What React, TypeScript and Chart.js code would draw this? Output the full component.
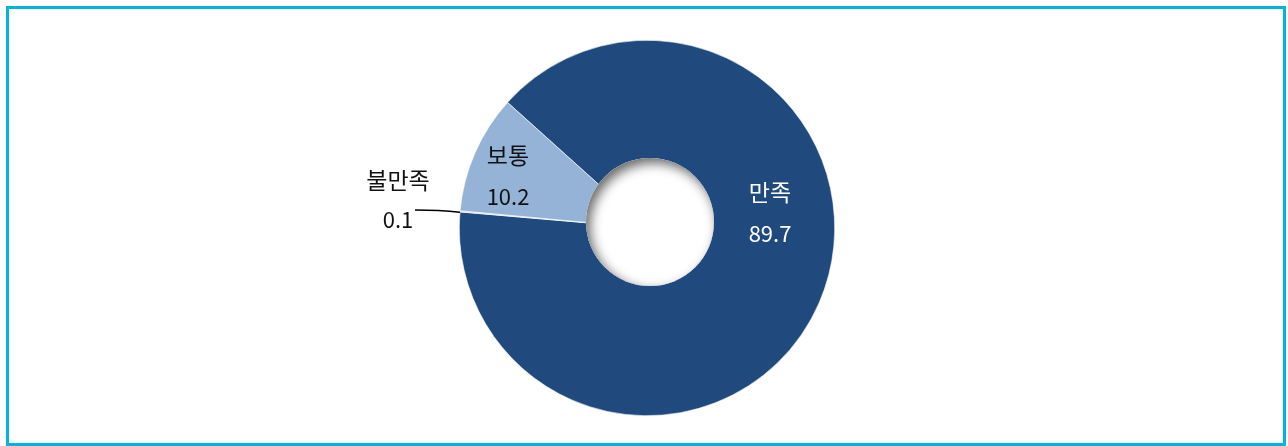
import React, { useEffect, useRef } from "react";
import { Chart, registerables } from "chart.js";

Chart.register(...registerables);

const categories = ["만족", "불만족", "보통"];
const values = [89.7, 0.1, 10.2];
const sliceColors = ["#204A7D", "#D9D9D9", "#95B3D7"];
const valueLabels = ["89.7", "0.1", "10.2"];

const FONT_KO = "23px 'Noto Sans CJK KR', 'Noto Sans', sans-serif";
const FONT_NUM = "22px 'Noto Sans CJK KR', 'Noto Sans', sans-serif";

const labelPlugin = {
  id: "donutLabels",
  afterDraw(chart: any) {
    const ctx = chart.ctx;
    const meta = chart.getDatasetMeta(0);
    const arc0 = meta.data[0];
    const cx = arc0.x;
    const cy = arc0.y;
    const outer = arc0.outerRadius;

    // hole with inner shadow
    const hx = cx + 3;
    const hy = cy - 6;
    const hr = 64;
    ctx.save();
    ctx.beginPath();
    ctx.arc(hx, hy, hr, 0, Math.PI * 2);
    ctx.fillStyle = "#ffffff";
    ctx.fill();
    ctx.clip();
    ctx.beginPath();
    ctx.rect(hx - hr * 4, hy - hr * 4, hr * 8, hr * 8);
    ctx.arc(hx, hy, hr, 0, Math.PI * 2, true);
    ctx.shadowColor = "rgba(0,0,0,0.6)";
    ctx.shadowBlur = 12;
    ctx.shadowOffsetX = 4;
    ctx.shadowOffsetY = 5;
    ctx.fillStyle = "#ffffff";
    ctx.fill();
    ctx.restore();

    ctx.save();
    ctx.textAlign = "center";
    ctx.textBaseline = "alphabetic";
    // 만족 (inside, white)
    ctx.fillStyle = "#ffffff";
    ctx.font = FONT_KO;
    ctx.fillText(categories[0], cx + 123, cy - 27);
    ctx.font = FONT_NUM;
    ctx.fillText(valueLabels[0], cx + 123, cy + 14);
    // 보통 (inside, black)
    ctx.fillStyle = "#111111";
    ctx.font = FONT_KO;
    ctx.fillText(categories[2], cx - 139, cy - 64);
    ctx.font = FONT_NUM;
    ctx.fillText(valueLabels[2], cx - 139, cy - 23);
    // 불만족 (outside with leader)
    ctx.font = FONT_KO;
    ctx.fillText(categories[1], cx - 249, cy - 39);
    ctx.font = FONT_NUM;
    ctx.fillText(valueLabels[1], cx - 249, cy);

    const a1 = meta.data[1];
    const mid = (a1.startAngle + a1.endAngle) / 2;
    const px = cx + Math.cos(mid) * outer;
    const py = cy + Math.sin(mid) * outer;
    ctx.beginPath();
    ctx.strokeStyle = "#000000";
    ctx.lineWidth = 1.5;
    ctx.moveTo(cx - 232, cy - 18);
    ctx.quadraticCurveTo(cx - 208, cy - 18, px, py + 1);
    ctx.stroke();
    ctx.restore();
  },
};

export default function App() {
  const ref = useRef<HTMLCanvasElement | null>(null);
  useEffect(() => {
    if (!ref.current) return;
    const chart = new Chart(ref.current, {
      type: "doughnut",
      data: {
        labels: categories,
        datasets: [
          {
            data: values,
            backgroundColor: sliceColors,
            borderColor: "#ffffff",
            borderWidth: 0.6,
          },
        ],
      },
      options: {
        animation: false,
        responsive: false,
        rotation: -48,
        cutout: "28%",
        layout: { padding: { left: 459, right: 453, top: 40, bottom: 30 } },
        plugins: {
          legend: { display: false },
          tooltip: { enabled: false },
        },
      },
      plugins: [labelPlugin],
    });
    return () => chart.destroy();
  }, []);

  return (
    <div
      style={{
        position: "absolute",
        left: 0,
        top: 0,
        width: 1288,
        height: 446,
        background: "#ffffff",
      }}
    >
      <div
        style={{
          position: "absolute",
          left: 6,
          top: 6,
          width: 1280,
          height: 440,
          border: "3px solid #00B4DC",
          boxSizing: "border-box",
        }}
      />
      <canvas
        ref={ref}
        width={1288}
        height={446}
        style={{ position: "absolute", left: 0, top: 0, width: 1288, height: 446 }}
      />
    </div>
  );
}
